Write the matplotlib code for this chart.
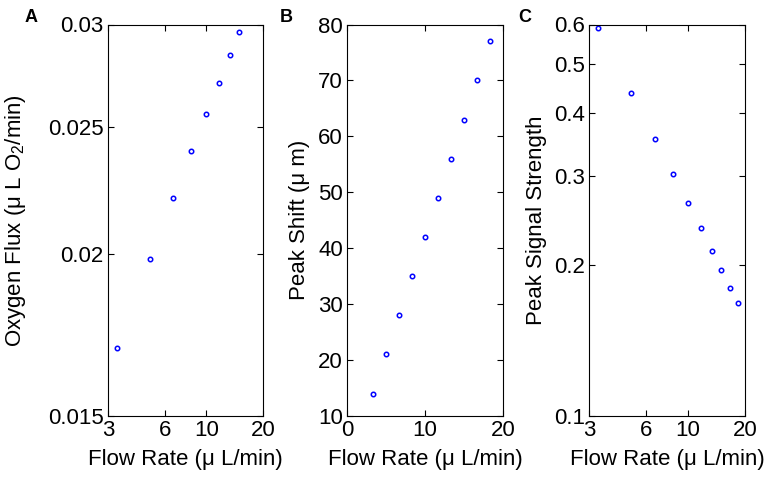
import numpy as np
import matplotlib
matplotlib.use("Agg")
import matplotlib.pyplot as plt
from matplotlib.ticker import NullLocator

plt.rcParams["font.family"] = ["Liberation Sans", "DejaVu Sans"]
plt.rcParams["mathtext.fontset"] = "custom"
plt.rcParams["mathtext.rm"] = "Liberation Sans"

# --- Data ---
flow_a = [3.33, 5.0, 6.67, 8.33, 10.0, 11.67, 13.33, 15.0]
oxygen_flux = [0.01693, 0.01982, 0.02208, 0.02397, 0.02561, 0.02706, 0.02840, 0.02962]

flow_bc = [3.33, 5.0, 6.67, 8.33, 10.0, 11.67, 13.33, 15.0, 16.67, 18.33]
peak_shift = [14, 21, 28, 35, 42, 49, 56, 63, 70, 77]
peak_signal = [0.590, 0.439, 0.356, 0.303, 0.265, 0.236, 0.213, 0.195, 0.180, 0.1675]

xlab = "Flow Rate (μ L/min)"
fs_tick = 16
fs_lab = 16

fig = plt.figure(figsize=(7.77, 4.82), dpi=100)
W, H = 777, 482
bottom, height = (H - 416) / H, 391.5 / H

def style(ax):
    ax.tick_params(direction="in", top=True, right=True, labelsize=fs_tick,
                   length=4, width=0.8, pad=3)
    ax.xaxis.set_minor_locator(NullLocator())
    ax.yaxis.set_minor_locator(NullLocator())
    for s in ax.spines.values():
        s.set_linewidth(0.8)

mk = dict(linestyle="none", marker="o", markersize=3.2, markerfacecolor="none",
          markeredgecolor="#0000ff", markeredgewidth=1.1)

# Panel A
axA = fig.add_axes([108 / W, bottom, 155 / W, height])
axA.plot(flow_a, oxygen_flux, **mk)
axA.set_xscale("log")
axA.set_yscale("log")
axA.set_xlim(3, 20)
axA.set_ylim(0.015, 0.03)
style(axA)
axA.set_xticks([3, 6, 10, 20], ["3", "6", "10", "20"])
axA.set_yticks([0.015, 0.02, 0.025, 0.03], ["0.015", "0.02", "0.025", "0.03"])
axA.set_xlabel(xlab, fontsize=fs_lab, labelpad=6)
axA.set_ylabel("Oxygen Flux (μ L O$_\\mathregular{2}$/min)", fontsize=fs_lab)
axA.yaxis.set_label_coords((28 - 108) / 155, 0.5)

# Panel B
axB = fig.add_axes([347 / W, bottom, 156 / W, height])
axB.plot(flow_bc, peak_shift, **mk)
axB.set_xlim(0, 20)
axB.set_ylim(10, 80)
style(axB)
axB.set_xticks([0, 10, 20])
axB.set_yticks(np.arange(10, 81, 10))
axB.set_xlabel(xlab, fontsize=fs_lab, labelpad=6)
axB.set_ylabel("Peak Shift (μ m)", fontsize=fs_lab)
axB.yaxis.set_label_coords((310 - 347) / 156, 0.5)

# Panel C
axC = fig.add_axes([589 / W, bottom, 156 / W, height])
axC.plot(flow_bc, peak_signal, **mk)
axC.set_xscale("log")
axC.set_yscale("log")
axC.set_xlim(3, 20)
axC.set_ylim(0.1, 0.6)
style(axC)
axC.set_xticks([3, 6, 10, 20], ["3", "6", "10", "20"])
axC.set_yticks([0.1, 0.2, 0.3, 0.4, 0.5, 0.6], ["0.1", "0.2", "0.3", "0.4", "0.5", "0.6"])
axC.set_xlabel(xlab, fontsize=fs_lab, labelpad=6)
axC.set_ylabel("Peak Signal Strength", fontsize=fs_lab)
axC.yaxis.set_label_coords((547 - 589) / 156, 0.5)

# Panel letters
for letter, x in [("A", 25), ("B", 280), ("C", 518)]:
    fig.text(x / W, 1 - 17 / H, letter, fontsize=13, fontweight="bold",
             ha="left", va="center")

fig.savefig("out.png", dpi=100)
